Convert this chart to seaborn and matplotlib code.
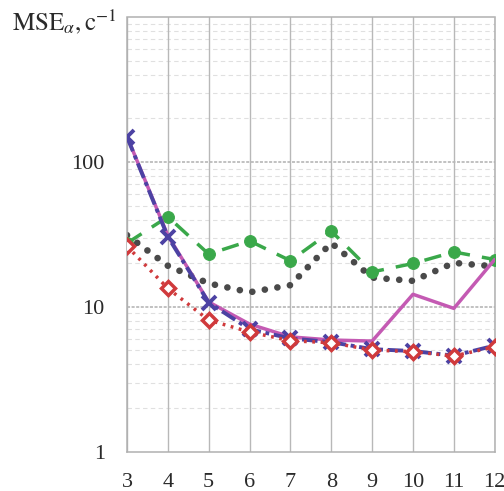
import matplotlib
matplotlib.use("Agg")
import matplotlib.pyplot as plt
import seaborn as sns
import numpy as np

x = [3, 4, 5, 6, 7, 8, 9, 10, 11, 12]
magenta_vals = [150, 31, 10.8, 7.6, 6.2, 5.9, 5.8, 12.2, 9.75, 21.2]
blue_vals = [149, 30.4, 10.7, 7.0, 6.05, 5.7, 5.1, 4.95, 4.6, 5.4]
red_vals = [26.2, 13.4, 8.1, 6.7, 5.83, 5.65, 5.03, 4.9, 4.57, 5.3]
green_vals = [27.5, 41.8, 23.1, 28.5, 20.8, 33.3, 17.4, 19.9, 23.9, 21.2]
gray_vals = [31.2, 19.2, 14.5, 12.6, 14.1, 27.6, 15.9, 15.1, 20.1, 19.0]
xtick_labels = ["3", "4", "5", "6", "7", "8", "9", "10", "11", "12"]
ytick_vals = [1, 10, 100]
ytick_labels = ["1", "10", "100"]

sns.set_style("white")
plt.rcParams['font.family'] = ['Liberation Serif', 'DejaVu Serif']
plt.rcParams['mathtext.fontset'] = 'stix'

fig = plt.figure(figsize=(5.04, 4.91), dpi=100)
ax = fig.add_axes([127/504, 1-451.7/491, (494.7-127)/504, (451.7-17)/491])
ax.set_yscale('log')
ax.set_xlim(3, 12)
ax.set_ylim(1, 1000)

# grid
minor_ys = [m * 10**d for d in range(0, 3) for m in range(2, 10)]
for yv in minor_ys:
    ax.axhline(yv, color='#e0e0e0', lw=0.8, ls=(0, (4, 3)), zorder=0)
for yv in [10, 100]:
    ax.axhline(yv, color='#b0b0b0', lw=1.1, ls=(0, (2, 1)), zorder=0.5)
for xv in x:
    ax.axvline(xv, color='#b8b8b8', lw=1.0, zorder=0.5)
for s in ax.spines.values():
    s.set_color('#b0b0b0')
    s.set_linewidth(1.1)
    s.set_linestyle((0, (2, 1)))

sns.lineplot(x=x, y=gray_vals, ax=ax, color='#4a4a4a', lw=4.8,
             linestyle=(0, (0.01, 1.9)), solid_capstyle='round', dash_capstyle='round', zorder=2)
sns.lineplot(x=x, y=green_vals, ax=ax, color='#3aa84a', lw=2.5,
             linestyle=(0, (5, 3.5)), marker='o', markersize=8.5, markeredgecolor='#3aa84a',
             markerfacecolor='#3aa84a', zorder=3)
sns.lineplot(x=x, y=magenta_vals, ax=ax, color='#c45ab3', lw=2.5, zorder=3.5)
sns.lineplot(x=x, y=blue_vals, ax=ax, color='#4c42a3', lw=2.8,
             linestyle=(0, (4, 1.2, 1, 1.2)), marker='x', markersize=9.5, markeredgewidth=2.8,
             markeredgecolor='#4c42a3', zorder=4)
sns.lineplot(x=x, y=red_vals, ax=ax, color='#d03a3c', lw=2.5,
             linestyle=(0, (0.8, 1.6)), marker='D', markersize=7, markeredgewidth=2.5,
             markerfacecolor='white', markeredgecolor='#d03a3c', zorder=5)

ax.set_xticks(x)
ax.set_xticklabels(xtick_labels, fontsize=16, color='#2a2a2a')
ax.set_yticks(ytick_vals)
ax.set_yticklabels(ytick_labels, fontsize=16, color='#2a2a2a')
ax.yaxis.set_minor_locator(matplotlib.ticker.NullLocator())
ax.tick_params(axis='x', length=0, pad=15)
ax.tick_params(axis='y', length=0, pad=16)
ax.set_xlabel('')
ax.set_ylabel('')

fig.text(12/504, 1-22/491, r'$\mathrm{MSE}_{\alpha}, \mathrm{c}^{-1}$', fontsize=18,
         color='#2a2a2a', ha='left', va='center')

fig.savefig('out.png', dpi=100)
